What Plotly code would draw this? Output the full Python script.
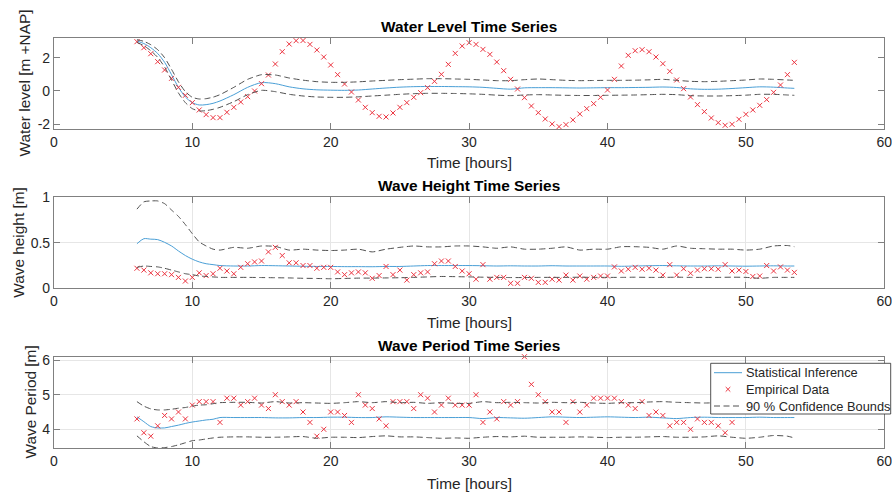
import numpy as np
import plotly.graph_objects as go

# ---------------- data ----------------
# observation times: every half hour from 6 h to 53.5 h
t_obs = np.arange(6.0, 53.75, 0.5)

# model output times (denser during the initial transient)
t_fit = [6, 6.5, 7, 7.5, 8, 8.5, 9, 9.5, 10, 10.5, 11, 11.5, 12] + list(range(13, 54)) + [53.5]

# water level [m +NAP]
wl_obs = [2.96, 2.60, 2.24, 1.76, 1.26, 0.76, 0.22, -0.26, -0.70, -1.14, -1.42, -1.60,
          -1.60, -1.28, -0.98, -0.66, -0.34, 0.00, 0.44, 0.96, 1.62, 2.36, 2.82, 3.02,
          3.03, 2.80, 2.46, 2.04, 1.56, 0.98, 0.42, -0.06, -0.54, -0.98, -1.30, -1.52,
          -1.56, -1.32, -0.98, -0.70, -0.38, -0.10, 0.20, 0.58, 1.00, 1.60, 2.26, 2.70,
          2.90, 2.80, 2.50, 2.20, 1.74, 1.22, 0.70, 0.12, -0.40, -0.90, -1.30, -1.68,
          -1.98, -2.14, -2.02, -1.74, -1.38, -1.06, -0.76, -0.38, 0.06, 0.70, 1.50, 2.14,
          2.42, 2.48, 2.36, 2.04, 1.64, 1.18, 0.66, 0.14, -0.36, -0.82, -1.24, -1.62,
          -1.90, -2.06, -2.00, -1.70, -1.40, -1.14, -0.86, -0.52, -0.08, 0.36, 0.98, 1.72]
wl_fit = [3.00, 2.85, 2.60, 2.25, 1.72, 0.98, 0.22, -0.36, -0.70, -0.84, -0.82, -0.74, -0.60,
          -0.22, 0.22, 0.50, 0.44, 0.25, 0.13, 0.07, 0.05, 0.04, 0.06, 0.12, 0.18, 0.23,
          0.26, 0.27, 0.27, 0.26, 0.25, 0.22, 0.16, 0.11, 0.19, 0.20, 0.20, 0.19, 0.18,
          0.19, 0.20, 0.20, 0.21, 0.22, 0.24, 0.21, 0.13, 0.10, 0.11, 0.15, 0.20, 0.25,
          0.23, 0.18, 0.16]
wl_up = [3.08, 2.98, 2.78, 2.48, 2.00, 1.30, 0.55, -0.04, -0.38, -0.48, -0.46, -0.37, -0.22,
         0.22, 0.70, 0.98, 0.96, 0.78, 0.65, 0.56, 0.52, 0.52, 0.55, 0.60, 0.64, 0.68,
         0.71, 0.74, 0.74, 0.72, 0.70, 0.66, 0.62, 0.62, 0.68, 0.72, 0.68, 0.64, 0.62,
         0.63, 0.64, 0.64, 0.65, 0.67, 0.70, 0.64, 0.58, 0.56, 0.58, 0.62, 0.66, 0.72,
         0.70, 0.66, 0.64]
wl_lo = [2.92, 2.72, 2.42, 2.02, 1.44, 0.66, -0.12, -0.70, -1.06, -1.20, -1.18, -1.10, -0.98,
         -0.64, -0.22, 0.04, -0.04, -0.20, -0.30, -0.36, -0.38, -0.38, -0.35, -0.30, -0.25,
         -0.20, -0.16, -0.14, -0.14, -0.15, -0.17, -0.20, -0.25, -0.28, -0.24, -0.22,
         -0.24, -0.26, -0.27, -0.27, -0.26, -0.25, -0.24, -0.22, -0.20, -0.22, -0.28,
         -0.30, -0.30, -0.28, -0.25, -0.20, -0.20, -0.24, -0.26]

# wave height [m]
wh_obs = [0.22, 0.20, 0.17, 0.16, 0.16, 0.15, 0.12, 0.08, 0.12, 0.17, 0.14, 0.16,
          0.22, 0.19, 0.16, 0.23, 0.27, 0.29, 0.30, 0.40, 0.45, 0.36, 0.28, 0.28,
          0.25, 0.25, 0.22, 0.23, 0.23, 0.18, 0.15, 0.17, 0.18, 0.17, 0.11, 0.14,
          0.24, 0.15, 0.20, 0.09, 0.15, 0.17, 0.18, 0.27, 0.30, 0.30, 0.24, 0.19,
          0.16, 0.10, 0.26, 0.10, 0.12, 0.12, 0.055, 0.055, 0.12, 0.11, 0.065, 0.065,
          0.10, 0.09, 0.145, 0.09, 0.135, 0.10, 0.12, 0.135, 0.135, 0.235, 0.19, 0.21,
          0.23, 0.21, 0.22, 0.20, 0.145, 0.26, 0.145, 0.215, 0.165, 0.20, 0.215, 0.215,
          0.21, 0.26, 0.19, 0.20, 0.185, 0.13, 0.135, 0.25, 0.19, 0.235, 0.20, 0.175]
wh_fit = [0.49, 0.545, 0.54, 0.535, 0.505, 0.465, 0.41, 0.36, 0.32, 0.29, 0.27, 0.26, 0.25,
          0.245, 0.245, 0.25, 0.248, 0.245, 0.242, 0.24, 0.24, 0.238, 0.238, 0.237, 0.24,
          0.24, 0.245, 0.25, 0.25, 0.25, 0.25, 0.248, 0.245, 0.247, 0.245, 0.245, 0.248,
          0.245, 0.245, 0.245, 0.245, 0.242, 0.245, 0.248, 0.25, 0.247, 0.245, 0.245,
          0.247, 0.245, 0.243, 0.245, 0.247, 0.245, 0.245]
wh_up = [0.87, 0.95, 0.96, 0.96, 0.93, 0.86, 0.79, 0.70, 0.60, 0.51, 0.465, 0.43, 0.42,
         0.45, 0.44, 0.465, 0.46, 0.42, 0.43, 0.42, 0.415, 0.42, 0.43, 0.40, 0.43, 0.45,
         0.465, 0.455, 0.455, 0.465, 0.465, 0.455, 0.44, 0.455, 0.43, 0.43, 0.44, 0.455,
         0.42, 0.43, 0.43, 0.457, 0.457, 0.45, 0.43, 0.465, 0.44, 0.435, 0.43, 0.43,
         0.42, 0.43, 0.465, 0.47, 0.457]
wh_lo = [0.23, 0.245, 0.24, 0.235, 0.22, 0.20, 0.18, 0.16, 0.15, 0.135, 0.13, 0.125, 0.12,
         0.12, 0.12, 0.118, 0.116, 0.114, 0.11, 0.108, 0.105, 0.108, 0.112, 0.112, 0.114,
         0.116, 0.12, 0.125, 0.13, 0.128, 0.125, 0.122, 0.12, 0.118, 0.118, 0.12, 0.12,
         0.12, 0.122, 0.12, 0.12, 0.12, 0.122, 0.12, 0.12, 0.122, 0.12, 0.12, 0.12,
         0.122, 0.12, 0.11, 0.12, 0.12, 0.12]

# wave period (recorded until 49 h)
wp_obs = [4.3, 3.9, 3.8, 4.1, 4.4, 4.3, 4.5, 4.3, 4.7, 4.8, 4.8, 4.8,
          4.2, 4.9, 4.9, 4.7, 4.8, 4.9, 4.7, 4.6, 5.0, 4.8, 4.7, 4.8,
          4.5, 4.2, 3.8, 4.0, 4.5, 4.5, 4.4, 4.2, 5.0, 4.7, 4.6, 4.3,
          4.1, 4.8, 4.8, 4.8, 4.6, 5.0, 4.9, 4.5, 4.7, 4.9, 4.7, 4.7,
          4.7, 5.0, 4.2, 4.5, 4.3, 4.8, 4.7, 4.8, 6.1, 5.3, 5.0, 4.8,
          4.5, 4.5, 4.2, 4.8, 4.5, 4.7, 4.9, 4.9, 4.9, 4.9, 4.8, 4.7,
          4.6, 4.8, 4.4, 4.5, 4.4, 4.1, 4.2, 4.2, 4.0, 4.3, 4.2, 4.2,
          4.1, 3.9, 4.2]
wp_fit = [4.36, 4.22, 4.08, 4.04, 4.04, 4.08, 4.12, 4.17, 4.21, 4.24, 4.27, 4.29, 4.34,
          4.34, 4.34, 4.34, 4.33, 4.33, 4.34, 4.34, 4.35, 4.35, 4.34, 4.34, 4.36, 4.35,
          4.34, 4.34, 4.34, 4.34, 4.34, 4.31, 4.34, 4.33, 4.32, 4.34, 4.36, 4.35, 4.34,
          4.35, 4.36, 4.35, 4.34, 4.35, 4.33, 4.31, 4.34, 4.35, 4.34, 4.34, 4.34, 4.35,
          4.34, 4.34, 4.34]
wp_up = [4.80, 4.67, 4.59, 4.56, 4.56, 4.58, 4.61, 4.63, 4.67, 4.70, 4.71, 4.74, 4.77,
         4.78, 4.78, 4.76, 4.80, 4.76, 4.77, 4.76, 4.75, 4.77, 4.80, 4.77, 4.80, 4.77,
         4.78, 4.75, 4.77, 4.75, 4.75, 4.80, 4.77, 4.78, 4.77, 4.76, 4.78, 4.77, 4.78,
         4.76, 4.75, 4.77, 4.77, 4.79, 4.80, 4.78, 4.77, 4.76, 4.77, 4.78, 4.77, 4.78,
         4.79, 4.78, 4.77]
wp_lo = [3.81, 3.64, 3.50, 3.46, 3.47, 3.50, 3.55, 3.61, 3.67, 3.69, 3.72, 3.75, 3.77,
         3.78, 3.78, 3.77, 3.77, 3.78, 3.79, 3.74, 3.77, 3.77, 3.76, 3.79, 3.81, 3.78,
         3.78, 3.76, 3.74, 3.75, 3.74, 3.77, 3.79, 3.78, 3.80, 3.77, 3.77, 3.77, 3.78,
         3.77, 3.76, 3.77, 3.77, 3.78, 3.79, 3.77, 3.77, 3.78, 3.81, 3.77, 3.74, 3.77,
         3.82, 3.80, 3.75]

titles = ["Water Level Time Series", "Wave Height Time Series", "Wave Period Time Series"]
ylabels = ["Water level [m +NAP]", "Wave height [m]", "Wave Period [m]"]
legend_labels = ["Statistical Inference", "Empirical Data", "90 % Confidence Bounds"]
x_ticks = [0, 10, 20, 30, 40, 50, 60]
y_ticks = [[-2, 0, 2], [0, 0.5, 1], [4, 5, 6]]
y_ranges = [[-2.3, 3.2], [0, 1], [3.45, 6.1]]

# ---------------- styling ----------------
W, H = 892, 493
FONT = "Liberation Sans, Arial, Helvetica, sans-serif"
TXT = "#262626"
FRAME = "#808080"
BLUE = "#4a9fd6"
RED = "#ec3440"
DASH = "#505050"
DASHPAT = "6px,3.5px"

# pixel geometry of the three axes boxes (left, right, top, bottom)
x_left, x_right = 53.9, 884.3
boxes = [(37.7, 129.3), (197.3, 288.3), (356.7, 448.3)]
ylab_x = [24, 19, 30]
title_y = [26, 185.5, 345.5]
xlab_y = [162.5, 322.5, 483]
show_grid = [False, True, True]


def px_x(p):
    return p / W


def px_y(p):
    return 1 - p / H


fig = go.Figure()

panels = [
    (t_obs, wl_obs, wl_fit, wl_up, wl_lo),
    (t_obs, wh_obs, wh_fit, wh_up, wh_lo),
    (t_obs[:len(wp_obs)], wp_obs, wp_fit, wp_up, wp_lo),
]

for i, (to, obs, fit, up, lo) in enumerate(panels):
    ax = "" if i == 0 else str(i + 1)
    fig.add_trace(go.Scatter(
        x=t_fit, y=fit, mode="lines", name=legend_labels[0],
        line=dict(color=BLUE, width=1, shape="spline", smoothing=0.8),
        xaxis="x" + ax, yaxis="y" + ax))
    fig.add_trace(go.Scatter(
        x=to, y=obs, mode="markers", name=legend_labels[1],
        marker=dict(symbol="x-thin", size=5, color=RED, line=dict(color=RED, width=1)),
        cliponaxis=False,
        xaxis="x" + ax, yaxis="y" + ax))
    for bound in (up, lo):
        fig.add_trace(go.Scatter(
            x=t_fit, y=bound, mode="lines", name=legend_labels[2],
            line=dict(color=DASH, width=1, dash=DASHPAT, shape="spline", smoothing=0.6),
            xaxis="x" + ax, yaxis="y" + ax))

layout = dict(
    width=W, height=H,
    margin=dict(l=0, r=0, t=0, b=0, autoexpand=False),
    paper_bgcolor="white", plot_bgcolor="white",
    font=dict(family=FONT, size=14, color=TXT),
    showlegend=False,
)

annotations = []
for i, (top, bot) in enumerate(boxes):
    ax = "" if i == 0 else str(i + 1)
    common = dict(
        showline=True, linecolor=FRAME, linewidth=1, mirror="ticks",
        ticks="inside", ticklen=6, tickwidth=1, tickcolor=FRAME,
        zeroline=False, showgrid=show_grid[i], gridcolor="#e6e6e6", gridwidth=1,
        tickfont=dict(family=FONT, size=14, color=TXT),
        automargin=False, ticklabeloverflow="allow",
    )
    layout["xaxis" + ax] = dict(
        common, domain=[px_x(x_left), px_x(x_right)], range=[0, 60],
        tickvals=x_ticks, ticktext=[str(v) for v in x_ticks],
        anchor="y" + ax)
    layout["yaxis" + ax] = dict(
        common, domain=[px_y(bot), px_y(top)], range=y_ranges[i],
        tickvals=y_ticks[i], ticktext=[str(v) for v in y_ticks[i]],
        anchor="x" + ax)
    annotations.append(dict(
        text="<b>%s</b>" % titles[i], x=px_x((x_left + x_right) / 2), y=px_y(title_y[i]),
        xref="paper", yref="paper", xanchor="center", yanchor="middle", showarrow=False,
        font=dict(family=FONT, size=15.4, color="black")))
    annotations.append(dict(
        text="Time [hours]", x=px_x((x_left + x_right) / 2), y=px_y(xlab_y[i]),
        xref="paper", yref="paper", xanchor="center", yanchor="middle", showarrow=False,
        font=dict(family=FONT, size=15.4, color=TXT)))
    annotations.append(dict(
        text=ylabels[i], x=px_x(ylab_x[i]), y=px_y((top + bot) / 2), textangle=-90,
        xref="paper", yref="paper", xanchor="center", yanchor="middle", showarrow=False,
        font=dict(family=FONT, size=15.4, color=TXT)))

# legend box in the lower panel (drawn as paper-anchored shapes and text)
leg_l, leg_r, leg_t, leg_b = 710.7, 890.7, 363.3, 414.0
row_y = [372.7, 389.3, 406.0]
sw_l, sw_r, txt_x = 714.0, 742.0, 744.0
shapes = [
    dict(type="rect", xref="paper", yref="paper",
         x0=px_x(leg_l), x1=px_x(leg_r), y0=px_y(leg_b), y1=px_y(leg_t),
         fillcolor="white", line=dict(color=TXT, width=0.8), layer="above"),
    dict(type="line", xref="paper", yref="paper",
         x0=px_x(sw_l), x1=px_x(sw_r), y0=px_y(row_y[0]), y1=px_y(row_y[0]),
         line=dict(color=BLUE, width=1), layer="above"),
    dict(type="line", xref="paper", yref="paper",
         x0=px_x(sw_l), x1=px_x(sw_r), y0=px_y(row_y[2]), y1=px_y(row_y[2]),
         line=dict(color=DASH, width=1, dash=DASHPAT), layer="above"),
]
mx, my, mh = (sw_l + sw_r) / 2, row_y[1], 2.3
for s in (1, -1):
    shapes.append(dict(type="line", xref="paper", yref="paper",
                       x0=px_x(mx - mh), x1=px_x(mx + mh),
                       y0=px_y(my - s * mh), y1=px_y(my + s * mh),
                       line=dict(color=RED, width=1), layer="above"))
for lbl, ry in zip(legend_labels, row_y):
    annotations.append(dict(
        text=lbl, x=px_x(txt_x), y=px_y(ry), xref="paper", yref="paper",
        xanchor="left", yanchor="middle", showarrow=False,
        font=dict(family=FONT, size=12.8, color=TXT)))

layout["annotations"] = annotations
layout["shapes"] = shapes
fig.update_layout(**layout)

fig.write_html("out.html")
